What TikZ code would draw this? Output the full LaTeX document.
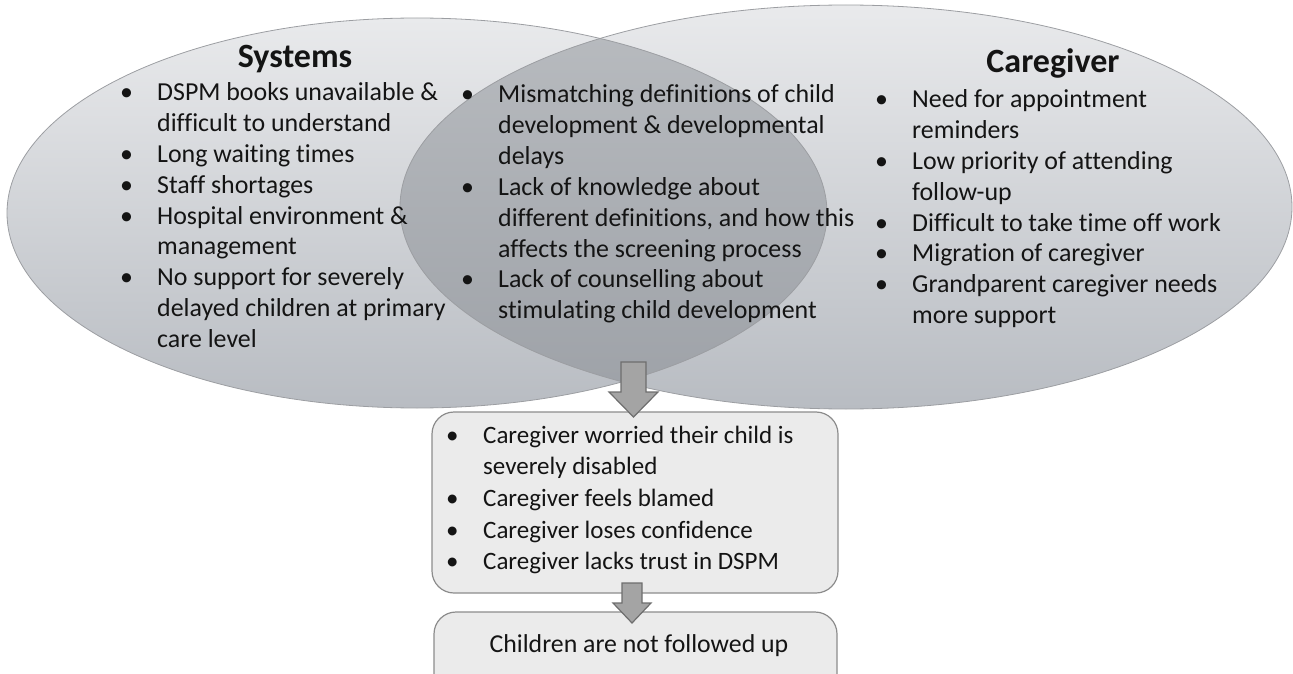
\documentclass[tikz,border=0pt]{standalone}
\usepackage{fontspec}
\setmainfont{Carlito}[Ligatures={NoCommon,NoContextual,NoRare},Contextuals=NoAlternate]
\usetikzlibrary{calc}
\definecolor{elltop}{HTML}{E9EAEC}
\definecolor{ellbot}{HTML}{B8BCC2}
\definecolor{lenstop}{HTML}{B9BCC0}
\definecolor{lensbot}{HTML}{9DA1A7}
\definecolor{ellline}{HTML}{9C9EA2}
\definecolor{boxfill}{HTML}{EBEBEB}
\definecolor{boxline}{HTML}{8C8C8C}
\definecolor{arrfill}{HTML}{A4A4A4}
\definecolor{arrline}{HTML}{6E6E6E}
\definecolor{txt}{HTML}{141414}
\tikzset{
  listtext/.style={anchor=base west, inner sep=0pt, text=txt, font=\fontsize{25.9}{30.8}\selectfont},
  titletext/.style={anchor=base, inner sep=0pt, text=txt, font=\fontsize{34}{40}\selectfont\bfseries},
  flowbox/.style={draw=boxline, line width=1.2pt, fill=boxfill, rounded corners=22pt},
  blockarrow/.style={draw=arrline, line width=1.2pt, fill=arrfill, line join=miter},
}
\newcommand{\blt}{\textbullet}
\begin{document}
\begin{tikzpicture}[x=1pt,y=-1pt]
\useasboundingbox (0,0) rectangle (1293,674);
% ellipses
\shade[top color=elltop, bottom color=ellbot] (417,213) ellipse [x radius=410, y radius=195];
\shade[top color=elltop, bottom color=ellbot] (846,207) ellipse [x radius=446, y radius=202];
\begin{scope}
  \clip (417,213) ellipse [x radius=410, y radius=195];
  \shade[top color=lenstop, bottom color=lensbot] (846,207) ellipse [x radius=446, y radius=202];
\end{scope}
\draw[ellline, line width=0.8pt] (417,213) ellipse [x radius=410, y radius=195];
\draw[ellline, line width=0.8pt] (846,207) ellipse [x radius=446, y radius=202];
\coordinate (sysC) at (417,213);
\coordinate (careC) at (846,207);

% titles
\node[titletext] (systitle) at (295,68) {Systems};
\node[titletext] (caretitle) at (1053,73) {Caregiver};

% systems list
\node[listtext] (syslist) at (120,101) {\begin{tabular}[t]{@{}p{37pt}@{}l@{}}
\blt & DSPM books unavailable \& \\
 & difficult to understand \\
\blt & Long waiting times \\
\blt & Staff shortages \\
\blt & Hospital environment \& \\
 & management \\
\blt & No support for severely \\
 & delayed children at primary \\
 & care level
\end{tabular}};

% middle list
\node[listtext] (midlist) at (461,103) {\begin{tabular}[t]{@{}p{37pt}@{}l@{}}
\blt & Mismatching definitions of child \\
 & development \& developmental \\
 & delays \\
\blt & Lack of knowledge about \\
 & different definitions, and how this \\
 & affects the screening process \\
\blt & Lack of counselling about \\
 & stimulating child development
\end{tabular}};

% caregiver list
\node[listtext] (carelist) at (875,108) {\begin{tabular}[t]{@{}p{37pt}@{}l@{}}
\blt & Need for appointment \\
 & reminders \\
\blt & Low priority of attending \\
 & follow-up \\
\blt & Difficult to take time off work \\
\blt & Migration of caregiver \\
\blt & Grandparent caregiver needs \\
 & more support
\end{tabular}};

% boxes
\draw[flowbox] (432,412) rectangle (838,593);
\coordinate (box1) at (635,412);
\draw[flowbox] (434,612) rectangle (837,700);
\node[listtext] (effects) at (446,443) {\fontsize{25}{31.7}\selectfont\begin{tabular}[t]{@{}p{37pt}@{}l@{}}
\blt & Caregiver worried their child is \\
 & severely disabled \\
\blt & Caregiver feels blamed \\
\blt & Caregiver loses confidence \\
\blt & Caregiver lacks trust in DSPM
\end{tabular}};
\node[anchor=base, inner sep=0pt, text=txt, font=\fontsize{25.8}{30}\selectfont] (outcome) at (639,652) {Children are not followed up};

% block arrows
\draw[blockarrow] (621,362) -- (646,362) -- (646,392) -- (658,392) -- (633.5,417) -- (609,392) -- (621,392) -- cycle;
\draw[blockarrow] (622,583) -- (642,583) -- (642,603) -- (651,603) -- (632,623) -- (613,603) -- (622,603) -- cycle;
\end{tikzpicture}
\end{document}
